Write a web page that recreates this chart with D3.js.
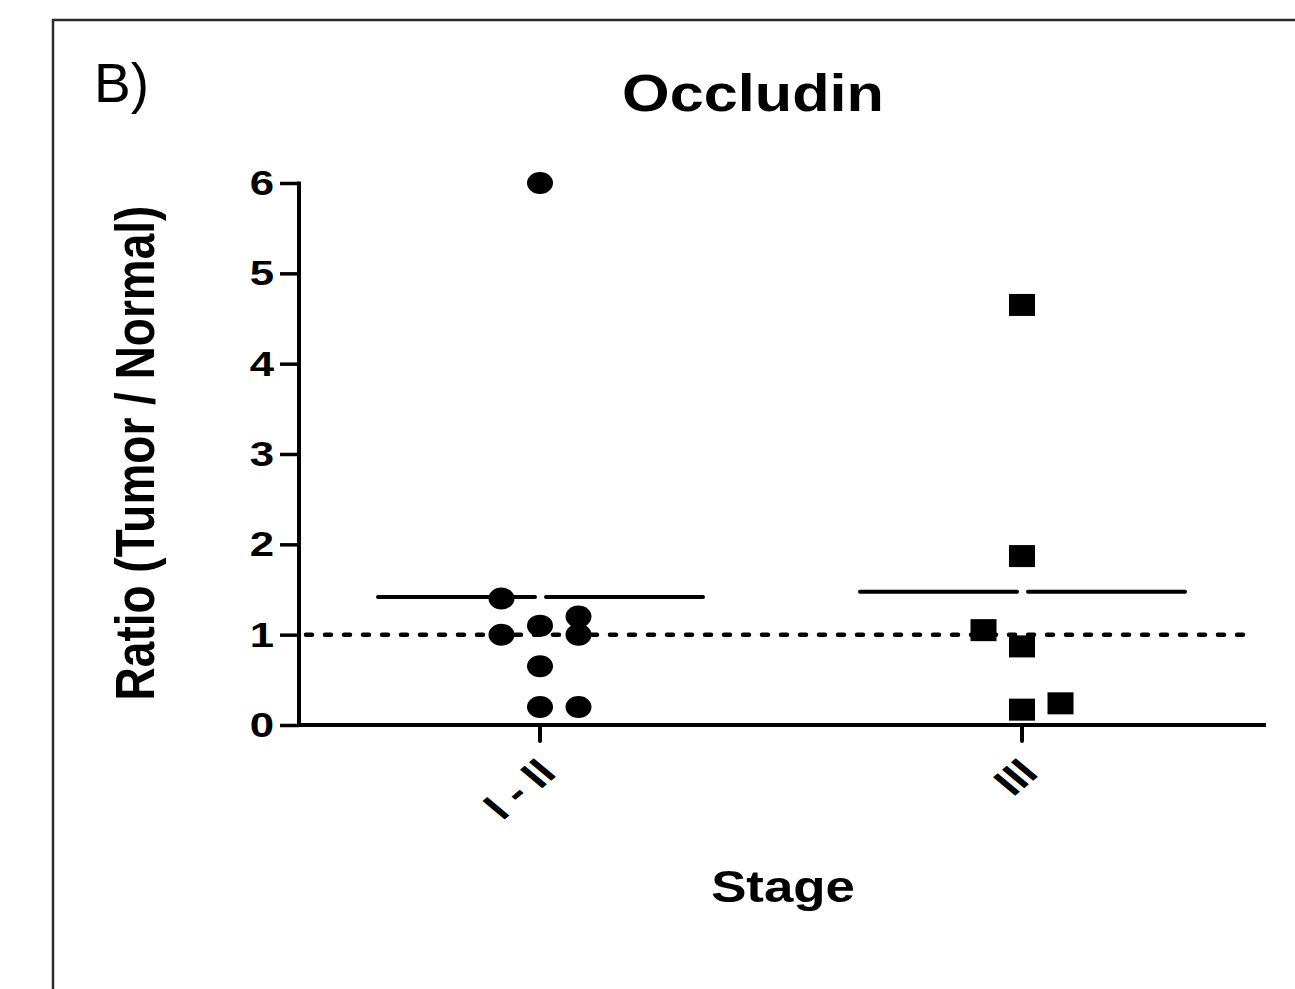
<!DOCTYPE html>
<html>
<head>
<meta charset="utf-8">
<script src="https://cdn.jsdelivr.net/npm/d3@7"></script>
<style>
  body { margin: 0; background: #fff; }
  text { font-family: "Liberation Sans", Arial, sans-serif; fill: #000; }
</style>
</head>
<body>
<div id="chart"></div>
<script>
// Data
const stages = ['I - II', 'III'];
const stage12_values = [6.0, 1.4, 1.0, 1.1, 1.2, 1.0, 0.65, 0.2, 0.2];
const stage12_columns = [0, -1, -1, 0, 1, 1, 0, 0, 1];
const stage3_values = [4.65, 1.87, 1.05, 0.87, 0.17, 0.24];
const stage3_columns = [0, 0, -1, 0, 0, 1];
const y_ticks = [0, 1, 2, 3, 4, 5, 6];
const reference_value = 1;

const width = 1295;
const height = 989;
const stretch = 1.2; // the original figure is stretched horizontally

let svg = d3.select('#chart')
  .append('svg')
    .attr('width', width)
    .attr('height', height);

// Frame
svg.append('rect')
  .attr('x', 53).attr('y', 20)
  .attr('width', 1300).attr('height', 1000)
  .attr('fill', 'none')
  .attr('stroke', '#2b2b2b')
  .attr('stroke-width', 2.5);

// Scales
let x_scale = d3.scaleBand()
  .domain(stages)
  .range([299, 1263])
  .padding(0);
let col_scale = d3.scaleLinear()
  .domain([-1, 1])
  .range([-38.5, 38.5]);
let y_scale = d3.scaleLinear()
  .domain([0, 6])
  .range([725, 183]);

const cx = s => x_scale(s) + x_scale.bandwidth() / 2;

// Y axis (ticks from d3, labels drawn separately)
let y_axis = svg.append('g')
  .attr('transform', 'translate(299,0)')
  .call(d3.axisLeft(y_scale).tickValues(y_ticks).tickSize(19).tickFormat(''));
y_axis.select('.domain').remove();
y_axis.selectAll('.tick line').attr('stroke', '#000').attr('stroke-width', 3.5);
svg.append('g')
  .attr('class', 'y-labels')
  .selectAll('text')
  .data(y_ticks)
  .enter()
  .append('text')
    .attr('transform', d => 'translate(274,' + (y_scale(d) + 12) + ') scale(1.25,1)')
    .attr('text-anchor', 'end')
    .style('font-size', '35px')
    .style('font-weight', 'bold')
    .text(d => d);
svg.append('line')
  .attr('x1', 299).attr('x2', 299)
  .attr('y1', y_scale(6) - 1.5).attr('y2', y_scale(0) + 2)
  .attr('stroke', '#000').attr('stroke-width', 4);

// X axis
let x_axis = svg.append('g')
  .attr('transform', 'translate(0,725)');
x_axis.append('line')
  .attr('x1', 299).attr('x2', 1266)
  .attr('stroke', '#000').attr('stroke-width', 4);
x_axis.selectAll('.cat-tick')
  .data(stages)
  .enter()
  .append('line')
    .attr('class', 'cat-tick')
    .attr('x1', d => cx(d)).attr('x2', d => cx(d))
    .attr('y1', 0).attr('y2', 16)
    .attr('stroke', '#000').attr('stroke-width', 4)
    .attr('stroke-linecap', 'round');
x_axis.selectAll('.cat-label')
  .data(stages)
  .enter()
  .append('text')
    .attr('class', 'cat-label')
    .attr('transform', d => 'translate(' + (cx(d) + 18) + ',50) scale(' + stretch + ',1) rotate(-45)')
    .attr('text-anchor', 'end')
    .style('font-size', '38px')
    .style('font-weight', 'bold')
    .text(d => d);

// Reference line at 1
svg.append('line')
  .attr('x1', 306).attr('x2', 1255)
  .attr('y1', y_scale(reference_value)).attr('y2', y_scale(reference_value))
  .attr('stroke', '#000').attr('stroke-width', 4.5)
  .attr('stroke-linecap', 'round')
  .attr('stroke-dasharray', '6,13');

// Mean lines
const groups = [
  {stage: stages[0], values: stage12_values, columns: stage12_columns},
  {stage: stages[1], values: stage3_values, columns: stage3_columns}
];
groups.forEach(g => {
  let m = d3.mean(g.values);
  let c = cx(g.stage);
  [[c - 162, c - 5], [c + 6, c + 163]].forEach(seg => {
    svg.append('line')
      .attr('x1', seg[0]).attr('x2', seg[1])
      .attr('y1', y_scale(m)).attr('y2', y_scale(m))
      .attr('stroke', '#000').attr('stroke-width', 4)
      .attr('stroke-linecap', 'round');
  });
});

// Points - stage I-II circles
svg.selectAll('.pt-circle')
  .data(stage12_values)
  .enter()
  .append('ellipse')
    .attr('class', 'pt-circle')
    .attr('cx', (d, i) => cx(stages[0]) + col_scale(stage12_columns[i]))
    .attr('cy', d => y_scale(d))
    .attr('rx', 13).attr('ry', 11)
    .attr('fill', '#000');

// Points - stage III squares
svg.selectAll('.pt-square')
  .data(stage3_values)
  .enter()
  .append('rect')
    .attr('class', 'pt-square')
    .attr('x', (d, i) => cx(stages[1]) + col_scale(stage3_columns[i]) - 13)
    .attr('y', d => y_scale(d) - 11)
    .attr('width', 26).attr('height', 22)
    .attr('fill', '#000');

// Titles
svg.append('text')
  .attr('transform', 'translate(753,111) scale(' + stretch + ',1)')
  .attr('text-anchor', 'middle')
  .style('font-size', '51px')
  .style('font-weight', 'bold')
  .text('Occludin');

svg.append('text')
  .attr('transform', 'translate(783,902) scale(' + stretch + ',1)')
  .attr('text-anchor', 'middle')
  .style('font-size', '44px')
  .style('font-weight', 'bold')
  .text('Stage');

svg.append('text')
  .attr('transform', 'translate(154,453) scale(' + stretch + ',1) rotate(-90)')
  .attr('text-anchor', 'middle')
  .style('font-size', '46px')
  .style('font-weight', 'bold')
  .text('Ratio (Tumor / Normal)');

svg.append('text')
  .attr('x', 94).attr('y', 102)
  .style('font-size', '55px')
  .text('B)');
</script>
</body>
</html>
